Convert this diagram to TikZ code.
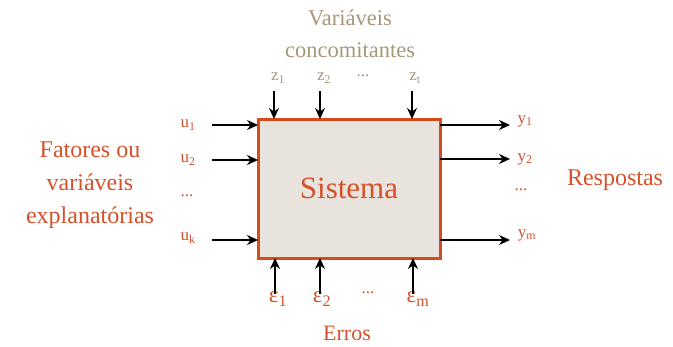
\documentclass[tikz,border=0pt]{standalone}
\usepackage{fontspec}
\setmainfont{Liberation Serif}
\usetikzlibrary{arrows.meta}
\definecolor{org}{HTML}{D6512A}
\definecolor{orgb}{HTML}{D84A1B}
\definecolor{tan}{HTML}{A8977A}
\definecolor{boxfill}{HTML}{E8E3DC}
\newcommand{\sbs}[1]{\textsubscript{#1}}
\begin{document}
\begin{tikzpicture}[x=1pt,y=-1pt,
  arr/.style={-{Stealth[length=11pt,width=10pt]},line width=1.5pt,black},
  lbl/.style={text=org,font=\fontsize{17}{19}\selectfont,inner sep=0pt},
  eps/.style={text=org,font=\fontsize{23}{25}\selectfont,inner sep=0pt},
  big/.style={text=org,font=\fontsize{24}{33}\selectfont,align=center,inner sep=0pt},
  tlbl/.style={text=tan,font=\fontsize{17}{19}\selectfont,inner sep=0pt}]
\useasboundingbox (0,0) rectangle (673,346);
\node[draw=orgb,line width=3pt,fill=boxfill,minimum width=182pt,minimum height=139pt,inner sep=0pt] (sys) at (349,188.5) {};
\node[text=org,font=\fontsize{31}{34}\selectfont] (st) at (349,188) {Sistema};
% left
\node[lbl] (u1) at (188,125) {u\sbs{1}};
\node[lbl] (u2) at (188,160) {u\sbs{2}};
\node[lbl] (ud) at (187,196) {...};
\node[lbl] (uk) at (188,238) {u\sbs{k}};
\coordinate (a1) at (212,125); \coordinate (b1) at (258,125);
\coordinate (a2) at (212,160); \coordinate (b2) at (258,160);
\coordinate (a3) at (212,240); \coordinate (b3) at (258,240);
\draw[arr] (a1) -- (b1); \draw[arr] (a2) -- (b2); \draw[arr] (a3) -- (b3);
% right
\node[lbl] (y1) at (525,121) {y\sbs{1}};
\node[lbl] (y2) at (525,159) {y\sbs{2}};
\node[lbl] (yd) at (521,190) {...};
\node[lbl] (ym) at (527,235) {y\sbs{m}};
\coordinate (c1) at (440,125); \coordinate (d1) at (510,125);
\coordinate (c2) at (440,159); \coordinate (d2) at (510,159);
\coordinate (c3) at (440,240); \coordinate (d3) at (510,240);
\draw[arr] (c1) -- (d1); \draw[arr] (c2) -- (d2); \draw[arr] (c3) -- (d3);
% top
\node[tlbl] (z1) at (278,78) {z\sbs{1}};
\node[tlbl] (z2) at (324,78) {z\sbs{2}};
\node[tlbl] (zd) at (363,76) {...};
\node[tlbl] (zt) at (415,78) {z\sbs{t}};
\coordinate (e1) at (274,91); \coordinate (f1) at (274,119);
\coordinate (e2) at (320,91); \coordinate (f2) at (320,119);
\coordinate (e3) at (412,91); \coordinate (f3) at (412,119);
\draw[arr] (e1) -- (f1); \draw[arr] (e2) -- (f2); \draw[arr] (e3) -- (f3);
\node[text=tan,font=\fontsize{22.5}{32}\selectfont,align=center,inner sep=0pt] (vc) at (350,34) {Variáveis\\concomitantes};
% bottom
\node[eps] (e1l) at (278,299) {ε\sbs{1}};
\node[eps] (e2l) at (322,299) {ε\sbs{2}};
\node[lbl] (edl) at (368,293) {...};
\node[eps] (eml) at (418,299) {ε\sbs{m}};
\coordinate (g1) at (275,294); \coordinate (h1) at (275,258);
\coordinate (g2) at (320,294); \coordinate (h2) at (320,258);
\coordinate (g3) at (413,294); \coordinate (h3) at (413,258);
\draw[arr] (g1) -- (h1); \draw[arr] (g2) -- (h2); \draw[arr] (g3) -- (h3);
\node[text=org,font=\fontsize{22}{24}\selectfont,inner sep=0pt] (er) at (347,333) {Erros};
% side labels
\node[big] (fat) at (90,185) {Fatores ou\\variáveis\\explanatórias};
\node[big] (resp) at (615,180) {Respostas};
\end{tikzpicture}
\end{document}
